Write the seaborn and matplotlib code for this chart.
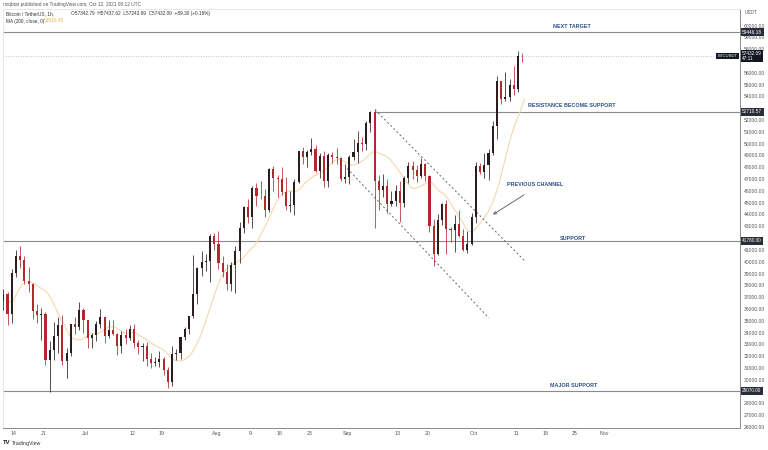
import numpy as np
import pandas as pd
import matplotlib
matplotlib.use("Agg")
import matplotlib.pyplot as plt
import matplotlib.dates as mdates
import seaborn as sns

# ---------------- data (daily OHLC) ----------------
start_date = "2021-06-11"
first_open = 36700
closes = [
    37300, 35550, 39020, 40520, 40140, 38350, 38090, 35820, 35480, 35600,
    31680, 32500, 33680, 34660, 31600, 32240, 34700, 34500, 35900, 35040,
    33540, 33800, 34700, 35290, 33690, 34220, 33860, 32880, 33810, 33520,
    34260, 33090, 32730, 32820, 31780, 31390, 31530, 31780, 30840, 29790,
    32140, 32290, 33630, 34260, 35400, 37280, 39460, 40010, 40020, 42210,
    41460,
    39850, 39150, 38150, 39740, 40870, 42830, 44610, 43810, 46280, 45580,
    45550, 44420, 47830, 47100, 47050, 45940, 44700, 44800, 46720, 49340,
    48870, 49290, 49540, 47710, 48980, 46840, 49070, 48900, 48800, 46990,
    47160,
    48850, 49280, 50030, 49940, 51790, 52700, 46860, 46060, 46400, 44850,
    45170, 46030, 44960, 47110, 48120, 47750, 47300, 48290, 47260, 42990,
    40690, 43560, 44890, 42810, 42670, 43160, 42170, 41030, 41520, 43790,
    48140, 47630, 48200, 49220, 51470, 55320, 53790, 53950, 54950, 54660,
    57470, 57432.09,
]
highs = [
    37700, 37400, 39400, 41000, 41330, 40500, 39560, 38200, 36450, 36100,
    35750, 33300, 34880, 35300, 35500, 32700, 34750, 35300, 36600, 36100,
    35050, 33950, 34950, 35950, 35300, 35100, 35080, 33920, 34100, 34260,
    34600, 34680, 33340, 33120, 33180, 32250, 31940, 32440, 31900, 31060,
    32860, 32580, 33650, 34490, 35400, 40550, 39540, 40900, 40640, 42320,
    42450,
    42600, 40450, 39780, 39970, 41350, 43390, 44700, 45310, 46450, 46700,
    46800, 46200, 47900, 48140, 47370, 48050, 47160, 46000, 47050, 49380,
    49750, 49500, 50500, 49870, 49230, 49370, 49170, 49310, 49660, 48910,
    48250,
    49000, 50400, 51050, 50560, 51900, 52780, 52920, 47380, 47400, 47030,
    45980, 46460, 46880, 47250, 48480, 48500, 48160, 48810, 48370, 47340,
    43640, 44000, 44980, 45200, 42970, 43920, 44350, 42790, 42630, 44130,
    48490, 48350, 49230, 49530, 51890, 55750, 55330, 56100, 55490, 56560,
    57840, 57680,
]
lows = [
    35900, 34600, 34800, 38700, 39500, 38100, 37400, 35130, 34800, 33350,
    31250, 28950, 31680, 32300, 31280, 30150, 32000, 33860, 34200, 34000,
    32700, 32700, 33320, 34400, 33130, 33530, 33770, 32100, 32260, 33000,
    33330, 32660, 32200, 31600, 31130, 31020, 31180, 31100, 30400, 29280,
    29480, 31700, 31780, 33400, 33850, 35250, 36400, 38770, 39200, 38310,
    41000,
    39420, 38690, 37640, 37510, 37330, 39850, 42450, 43260, 42850, 44700,
    45350, 43770, 44250, 45970, 45520, 45650, 44380, 44200, 43950, 46630,
    48290, 48000, 49060, 47600, 47120, 46330, 46360, 48370, 48300, 46860,
    46700,
    46560, 48650, 48360, 49410, 49500, 50970, 42840, 44410, 45510, 44140,
    44720, 44740, 43370, 44650, 46700, 47040, 46750, 47100, 46850, 42500,
    39600, 40570, 43100, 40680, 41650, 40800, 42100, 40900, 40750, 41410,
    43280, 47430, 47100, 46890, 49070, 50380, 53360, 53620, 53660, 54100,
    54420, 56900,
]

# horizontal levels
next_target = 59446.18
last_price = 57432.09
resistance = 52710.57
support = 41780.00
major_support = 29070.00

# channel anchor points: (days after start, price)
channel_upper = [(88.6, 52880), (124.1, 40060)]
channel_lower = [(82.0, 47900), (115.6, 35230)]

# x-axis tick dates and labels
tick_dates = ["2021-06-14", "2021-06-21", "2021-07-01", "2021-07-12", "2021-07-19",
              "2021-08-01", "2021-08-09", "2021-08-16", "2021-08-23", "2021-09-01",
              "2021-09-13", "2021-09-20", "2021-10-01", "2021-10-11", "2021-10-18",
              "2021-10-25", "2021-11-01"]
tick_labels = ["14", "21", "Jul", "12", "19", "Aug", "9", "16", "23", "Sep",
               "13", "20", "Oct", "11", "18", "25", "Nov"]

# ---------------- build frame ----------------
dates = pd.date_range(start_date, periods=len(closes), freq="D")
opens = [first_open] + closes[:-1]
df = pd.DataFrame(dict(date=dates, open=opens, high=highs, low=lows, close=closes))
t0 = mdates.date2num(pd.Timestamp(start_date))
df["x"] = mdates.date2num(df["date"]) + 0.5
df["typ"] = (df.open + df.high + df.low + df.close) / 4
df["ma"] = df["typ"].rolling(9, min_periods=1).mean()
df["ma_x"] = mdates.date2num(df["date"]) + 1.0

# ---------------- style ----------------
sns.set_theme(style="white")
plt.rcParams["font.family"] = ["Liberation Sans", "DejaVu Sans"]

W, H = 768, 450
fig = plt.figure(figsize=(W / 100, H / 100), dpi=100)
fig.patch.set_facecolor("white")
L, R, T, B = 3, 740, 9, 428
ax = fig.add_axes([L / W, 1 - B / H, (R - L) / W, (B - T) / H])
ax.set_facecolor("white")

up_col, dn_col = "#2a1d1d", "#b3282d"
cols = np.where(df.close >= df.open, up_col, dn_col)

# MA line
sns.lineplot(data=df, x="ma_x", y="ma", ax=ax, color="#f3d9ad", lw=0.8, legend=False, zorder=2)

# candles
ax.vlines(df.x, df.low, df.high, colors=cols, lw=0.55, zorder=3)
body_bot = np.minimum(df.open, df.close)
body_h = np.maximum(np.abs(df.close - df.open), 40)
ax.bar(df.x, body_h, bottom=body_bot, width=0.5, color=cols, linewidth=0, zorder=3)

# horizontal levels
line_col = "#8a8a8a"
ax.axhline(next_target, color=line_col, lw=0.8, zorder=1)
ax.axhline(support, color=line_col, lw=0.8, zorder=1)
ax.axhline(major_support, color=line_col, lw=0.8, zorder=1)
ax.axhline(last_price, color="#b0b0b0", lw=0.6, ls=(0, (1, 2)), zorder=1)
ax.hlines(resistance, t0 + channel_upper[0][0], t0 + 200, color=line_col, lw=0.8, zorder=1)

# channel
for pts in (channel_upper, channel_lower):
    ax.plot([t0 + p[0] for p in pts], [p[1] for p in pts], color="#666666", lw=0.7,
            ls=(0, (2, 2.5)), zorder=2)

# annotations
ann_col = "#2c4f82"
ann_kw = dict(color=ann_col, fontsize=3.9, fontweight="bold", ha="center", va="center", zorder=5)
ax.text(t0 + 135.3, 59890, "NEXT TARGET", **ann_kw)
ax.text(t0 + 135.3, 53195, "RESISTANCE BECOME SUPPORT", **ann_kw)
ax.text(t0 + 126.5, 46500, "PREVIOUS CHANNEL", **ann_kw)
ax.text(t0 + 135.6, 41990, "SUPPORT", **ann_kw)
ax.text(t0 + 135.7, 29470, "MAJOR SUPPORT", **ann_kw)
ax.annotate("", xy=(t0 + 116.0, 43873), xytext=(t0 + 124.5, 45797),
            arrowprops=dict(arrowstyle="->", color="#555555", lw=0.6, mutation_scale=5))

# axes limits
ax.set_xlim(t0 + 0.43, t0 + 175.1)
ax.set_ylim(25907, 61415)
ax.set_xlabel("")
ax.set_ylabel("")

# x ticks
ax.set_xticks([mdates.date2num(pd.Timestamp(d)) for d in tick_dates])
ax.set_xticklabels(tick_labels)
ax.tick_params(axis="x", length=0, pad=2.5, labelsize=3.8, labelcolor="#555555")

# y ticks on right (labels hidden behind price boxes are skipped)
yt = [v for v in range(26000, 61000, 1000) if v not in (29000, 42000, 53000, 57000)]
ax.yaxis.tick_right()
ax.set_yticks(yt)
ax.set_yticklabels([f"{v:.2f}" for v in yt])
ax.tick_params(axis="y", length=0, pad=2.5, labelsize=3.6, labelcolor="#555555")

for s in ("top", "left"):
    ax.spines[s].set_color("#e4e4e4")
    ax.spines[s].set_linewidth(0.6)
for s in ("right", "bottom"):
    ax.spines[s].set_color("#8c8c8c")
    ax.spines[s].set_linewidth(0.7)

# price boxes on the axis
yax = ax.get_yaxis_transform()
box_kw = dict(transform=yax, ha="left", va="center", fontsize=3.4, color="white",
              clip_on=False, zorder=6)
for p, txt in ((next_target, "59446.18"), (resistance, "52710.57"),
               (support, "41780.00"), (major_support, "29070.00")):
    ax.text(1.003, p, txt, bbox=dict(boxstyle="square,pad=0.35", fc="#2a2e39", ec="none"), **box_kw)
ax.text(1.003, last_price, "57432.09\n47:11", linespacing=1.0,
        bbox=dict(boxstyle="square,pad=0.3", fc="#131722", ec="none"), **box_kw)
ax.text(0.997, last_price, "BTCUSDT", transform=yax, ha="right", va="center", fontsize=3.0,
        color="white", zorder=6, bbox=dict(boxstyle="square,pad=0.35", fc="#131722", ec="none"))

# header texts
def ftxt(x, y, s, **kw):
    fig.text(x / W, 1 - y / H, s, va="center", ha="left", **kw)

ftxt(3, 4.5, "rizqbtar published on TradingView.com, Oct 12, 2021 08:12 UTC", fontsize=3.4, color="#555555")
ftxt(6, 14, "Bitcoin / TetherUS, 1h,", fontsize=3.4, color="#333333")
ftxt(71, 14, "O57342.79  H57437.62  L57243.99  C57432.09  +89.30 (+0.16%)", fontsize=3.4, color="#333333")
ftxt(6, 21, "MA (200, close, 0)", fontsize=3.4, color="#333333")
ftxt(44, 21, "53516.45", fontsize=3.4, color="#e0b64a")
ftxt(745, 12, "USDT", fontsize=3.4, color="#555555")
ftxt(3, 443, "TV", fontsize=4.2, color="#131722", fontweight="bold")
ftxt(12, 443, "TradingView", fontsize=3.8, color="#333333")

fig.savefig("out.png", dpi=100, facecolor="white")
